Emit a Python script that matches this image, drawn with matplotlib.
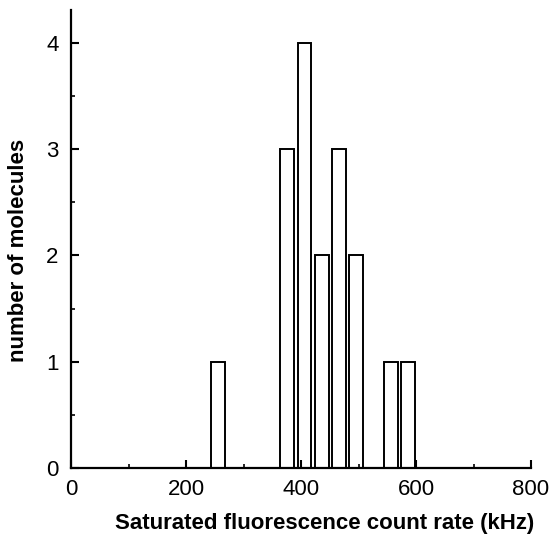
import numpy as np
import matplotlib
matplotlib.use("Agg")
import matplotlib.pyplot as plt
from matplotlib.ticker import MultipleLocator

# bin centres (kHz) and counts
bin_centers = [256, 376, 406, 436, 466, 496, 556, 586]
counts = [1, 3, 4, 2, 3, 2, 1, 1]
bar_width = 24

plt.rcParams['font.family'] = ['Liberation Sans', 'DejaVu Sans']

fig = plt.figure(figsize=(5.51, 5.36), dpi=100)
ax = fig.add_axes([71 / 551, 1 - 468 / 536, 460 / 551, 458 / 536])

ax.bar(bin_centers, counts, width=bar_width, facecolor='white', edgecolor='black', linewidth=1.4)

ax.set_xlim(0, 800)
ax.set_ylim(0, 4.31)
ax.xaxis.set_major_locator(MultipleLocator(200))
ax.xaxis.set_minor_locator(MultipleLocator(100))
ax.yaxis.set_major_locator(MultipleLocator(1))
ax.yaxis.set_minor_locator(MultipleLocator(0.5))

ax.spines['top'].set_visible(False)
ax.spines['right'].set_visible(False)
for s in ('left', 'bottom'):
    ax.spines[s].set_linewidth(1.6)
ax.tick_params(which='major', direction='in', length=6, width=1.5, labelsize=16, pad=8)
ax.tick_params(axis='y', which='major', pad=9)
ax.tick_params(which='minor', direction='in', length=3, width=1.2)

ax.set_xlabel('Saturated fluorescence count rate (kHz)', fontsize=16, fontweight='bold', labelpad=9)
ax.xaxis.label.set_x(0.552)
ax.set_ylabel('number of molecules', fontsize=16, fontweight='bold', labelpad=12)
ax.yaxis.label.set_y(0.476)

fig.savefig('out.png', dpi=100)
